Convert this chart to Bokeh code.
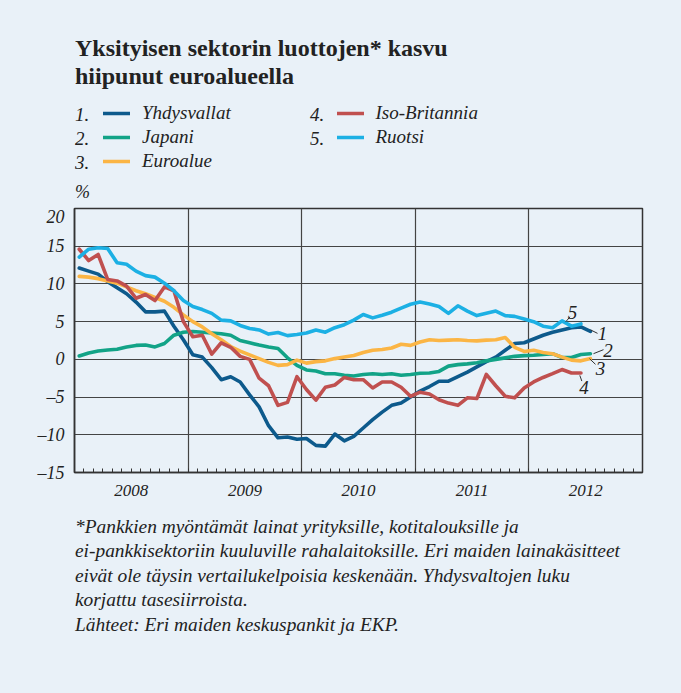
from bokeh.plotting import figure
from bokeh.layouts import column
from bokeh.models import Range1d, FixedTicker, Label, Legend, LegendItem
from bokeh.embed import file_html
from bokeh.resources import INLINE

# ---------------- data (monthly, % y/y) ----------------
months = [f"{2008 + i // 12}-{i % 12 + 1:02d}" for i in range(55)]  # Jan 2008 .. Jul 2012

yhdysvallat = [12.1, 11.7, 11.3, 10.3, 9.5, 8.7, 7.6, 6.3, 6.3, 6.4, 4.4, 2.6,
               0.6, 0.3, -1.1, -2.7, -2.3, -3.0, -4.7, -6.3, -8.8, -10.4, -10.3, -10.6,
               -10.5, -11.4, -11.5, -9.9, -10.8, -10.2, -9.1, -8.0, -7.0, -6.1, -5.8, -5.0,
               -4.2, -3.6, -2.9, -2.9, -2.3, -1.7, -1.0, -0.3, 0.3, 1.2, 2.1, 2.2,
               2.7, 3.2, 3.6, 3.9, 4.2, 4.3, 3.7]
japani = [0.45, 0.85, 1.1, 1.25, 1.35, 1.65, 1.85, 1.9, 1.65, 2.1, 3.2, 3.6,
          3.7, 3.6, 3.5, 3.4, 3.2, 2.5, 2.2, 1.9, 1.65, 1.45, 0.2, -0.8,
          -1.4, -1.55, -1.9, -1.9, -2.1, -2.2, -2.0, -1.9, -2.0, -1.9, -2.1, -2.0,
          -1.85, -1.8, -1.6, -0.9, -0.7, -0.6, -0.45, -0.2, 0.0, 0.2, 0.4, 0.5,
          0.55, 0.65, 0.75, 0.25, 0.25, 0.65, 0.75]
euroalue = [11.0, 10.9, 10.7, 10.4, 10.1, 9.6, 9.1, 8.7, 8.2, 7.7, 6.9, 5.9,
            5.0, 4.3, 3.4, 2.6, 1.7, 1.1, 0.6, 0.1, -0.4, -0.8, -0.7, -0.1,
            -0.5, -0.3, -0.2, 0.1, 0.3, 0.5, 0.9, 1.2, 1.3, 1.5, 2.0, 1.85,
            2.3, 2.6, 2.5, 2.55, 2.6, 2.5, 2.45, 2.55, 2.6, 2.9, 1.6, 1.05,
            1.2, 0.9, 0.75, 0.3, -0.1, -0.2, 0.1]
iso_britannia = [14.6, 13.1, 13.9, 10.6, 10.4, 9.7, 8.1, 8.6, 7.8, 9.6, 9.1, 5.0,
                 3.0, 3.2, 0.7, 2.2, 1.6, 0.4, 0.0, -2.5, -3.5, -6.1, -5.7, -2.3,
                 -4.0, -5.4, -3.7, -3.4, -2.4, -2.7, -2.7, -3.8, -3.0, -3.0, -3.7, -4.9,
                 -4.35, -4.6, -5.35, -5.8, -6.1, -5.1, -5.2, -2.0, -3.5, -4.9, -5.1, -3.8,
                 -3.0, -2.4, -1.9, -1.35, -1.8, -1.8]
ruotsi = [13.55, 14.6, 14.8, 14.7, 12.8, 12.6, 11.7, 11.1, 10.9, 10.1, 9.1, 7.8,
          7.0, 6.6, 6.1, 5.2, 5.1, 4.5, 4.1, 3.9, 3.35, 3.55, 3.15, 3.3,
          3.5, 3.9, 3.6, 4.2, 4.6, 5.2, 5.95, 5.5, 5.85, 6.25, 6.8, 7.3,
          7.6, 7.35, 7.0, 6.1, 7.1, 6.4, 5.8, 6.1, 6.4, 5.8, 5.7, 5.35,
          5.0, 4.4, 4.2, 5.1, 4.4, 4.7]

series_names = ["Yhdysvallat", "Japani", "Euroalue", "Iso-Britannia", "Ruotsi"]
series_values = [yhdysvallat, japani, euroalue, iso_britannia, ruotsi]
series_colors = ["#0d5a8c", "#12a387", "#fbb545", "#c0504f", "#1cb0e4"]

years = [2008, 2009, 2010, 2011, 2012]
y_ticks = [-15, -10, -5, 0, 5, 10, 15, 20]

title_lines = ["Yksityisen sektorin luottojen* kasvu", "hiipunut euroalueella"]
footnote_lines = [
    "*Pankkien myöntämät lainat yrityksille, kotitalouksille ja",
    "ei-pankkisektoriin kuuluville rahalaitoksille. Eri maiden lainakäsitteet",
    "eivät ole täysin vertailukelpoisia keskenään. Yhdysvaltojen luku",
    "korjattu tasesiirroista.",
    "Lähteet: Eri maiden keskuspankit ja EKP.",
]


def month_to_year(m):
    y, mo = m.split("-")
    return int(y) + (int(mo) - 0.5) / 12.0


xs = [month_to_year(m) for m in months]

# ---------------- styling ----------------
BG = "#e9f1f8"
INK = "#222222"
SERIF = "Liberation Serif"
W = 681
HEAD_H = 206
MAIN_H = 304
FOOT_H = 693 - HEAD_H - MAIN_H
BL, BR = 74, 39          # left / right borders shared by all three panels


def txt(x, y, text, size="19px", style="italic", align="left"):
    return Label(x=x, y=y, text=text, text_font=SERIF, text_font_style=style,
                 text_font_size=size, text_color=INK, text_baseline="middle",
                 text_align=align)


def blank_fig(h):
    f = figure(width=W, height=h, output_backend="svg", toolbar_location=None,
               x_range=Range1d(BL, W - BR), y_range=Range1d(h, 0),
               x_axis_location=None, y_axis_location=None,
               min_border_left=BL, min_border_right=BR, min_border_top=0, min_border_bottom=0)
    f.background_fill_color = BG
    f.border_fill_color = BG
    f.outline_line_color = None
    f.xgrid.visible = False
    f.ygrid.visible = False
    return f


# ---------------- header: title + legend ----------------
head = blank_fig(HEAD_H)
for t, py in zip(title_lines, [47, 75]):
    head.add_layout(txt(74.5, py, t, size="24px", style="bold"))

nan = float("nan")
proxies = [head.line(x=[nan], y=[nan], line_color=c, line_width=3.6, line_cap="round")
           for c in series_colors]


def make_legend(idx, loc):
    return Legend(items=[LegendItem(label=series_names[i], renderers=[proxies[i]]) for i in idx],
                  location=loc, orientation="vertical", glyph_width=27, glyph_height=24,
                  label_height=24, spacing=0, padding=0, margin=0, label_standoff=12,
                  background_fill_alpha=0, border_line_alpha=0,
                  label_text_font=SERIF, label_text_font_style="italic",
                  label_text_font_size="19px", label_text_color=INK)


head.add_layout(make_legend([0, 1, 2], (103 - BL, HEAD_H - 173)))
head.add_layout(make_legend([3, 4], (336.5 - BL, HEAD_H - 149)))
for i, (px, py) in enumerate([(74.5, 113.5), (74.5, 137.5), (74.5, 161.5), (309.5, 113.5), (309.5, 137.5)]):
    head.add_layout(txt(px, py, f"{i + 1}."))
head.add_layout(txt(74.5, 191.5, "%", size="18px"))

# ---------------- main chart ----------------
p = figure(width=W, height=MAIN_H, output_backend="svg", toolbar_location=None,
           x_range=Range1d(2008, 2013), y_range=Range1d(-15, 20),
           min_border_left=BL, min_border_right=BR, min_border_top=2, min_border_bottom=38)
p.background_fill_color = BG
p.border_fill_color = BG
p.outline_line_color = "#333333"
p.outline_line_width = 1.5

p.xaxis.ticker = FixedTicker(ticks=[y + 0.5 for y in years],
                             minor_ticks=[2008 + k / 12 for k in range(61)])
p.xaxis.major_label_overrides = {y + 0.5: str(y) for y in years}
p.xaxis.major_tick_out = 0
p.xaxis.major_tick_in = 0
p.xaxis.minor_tick_in = 4
p.xaxis.minor_tick_out = 0
p.xaxis.minor_tick_line_color = "#333333"
p.xaxis.major_label_standoff = 12

p.yaxis.ticker = FixedTicker(ticks=y_ticks, minor_ticks=[])
p.yaxis.major_label_overrides = {t: str(t).replace("-", "\u2013") for t in y_ticks}
p.yaxis.major_tick_out = 0
p.yaxis.major_tick_in = 0
p.yaxis.minor_tick_line_color = None
p.yaxis.major_label_standoff = 10

for ax in (p.xaxis, p.yaxis):
    ax.axis_line_color = "#333333"
    ax.axis_line_width = 1.5
    ax.major_label_text_font = SERIF
    ax.major_label_text_font_style = "italic"
    ax.major_label_text_color = INK
p.xaxis.major_label_text_font_size = "17px"
p.yaxis.major_label_text_font_size = "18px"

p.xgrid.ticker = FixedTicker(ticks=years[1:])
p.ygrid.ticker = FixedTicker(ticks=y_ticks)
p.xgrid.grid_line_color = "#444444"
p.ygrid.grid_line_color = "#444444"
p.xgrid.grid_line_width = 1.2
p.ygrid.grid_line_width = 1.2

for name, vals, col in zip(series_names, series_values, series_colors):
    p.line(xs[:len(vals)], vals, line_color=col, line_width=3.6,
           line_join="round", line_cap="round")


# page-pixel helpers for end-label placement (frame: x 74..642, y 208..472)
def PX(px):
    return 2008 + (px - 74) / 113.6


def PY(py):
    return (359 - py) / 7.543


end_marks = [  # (label, leader start px, leader end px, text centre px)
    ("5", (565, 321.7), (569.5, 316.5), (572, 311.7)),
    ("1", (590, 329.5), (597, 333.0), (602, 332.7)),
    ("2", (593, 353.3), (603, 349.3), (607.5, 350.0)),
    ("3", (589, 358.3), (595, 364.0), (600, 368.3)),
    ("4", (579.3, 375), (581.3, 380.7), (583.5, 386.7)),
]
p.segment(x0=[PX(a[0]) for _, a, _, _ in end_marks], y0=[PY(a[1]) for _, a, _, _ in end_marks],
          x1=[PX(b[0]) for _, _, b, _ in end_marks], y1=[PY(b[1]) for _, _, b, _ in end_marks],
          line_color="#333333", line_width=1)
for t, _, _, (tx, ty) in end_marks:
    p.add_layout(txt(PX(tx), PY(ty), t, size="19px", align="center"))

# ---------------- footnote ----------------
foot = blank_fig(FOOT_H)
off = HEAD_H + MAIN_H
for t, py in zip(footnote_lines, [525.5, 550, 574.5, 599, 623.5]):
    foot.add_layout(txt(74.5, py - off, t, size="19.4px"))

layout = column(head, p, foot, spacing=0, styles={"background-color": BG})
open("out.html", "w").write(file_html(layout, INLINE))
